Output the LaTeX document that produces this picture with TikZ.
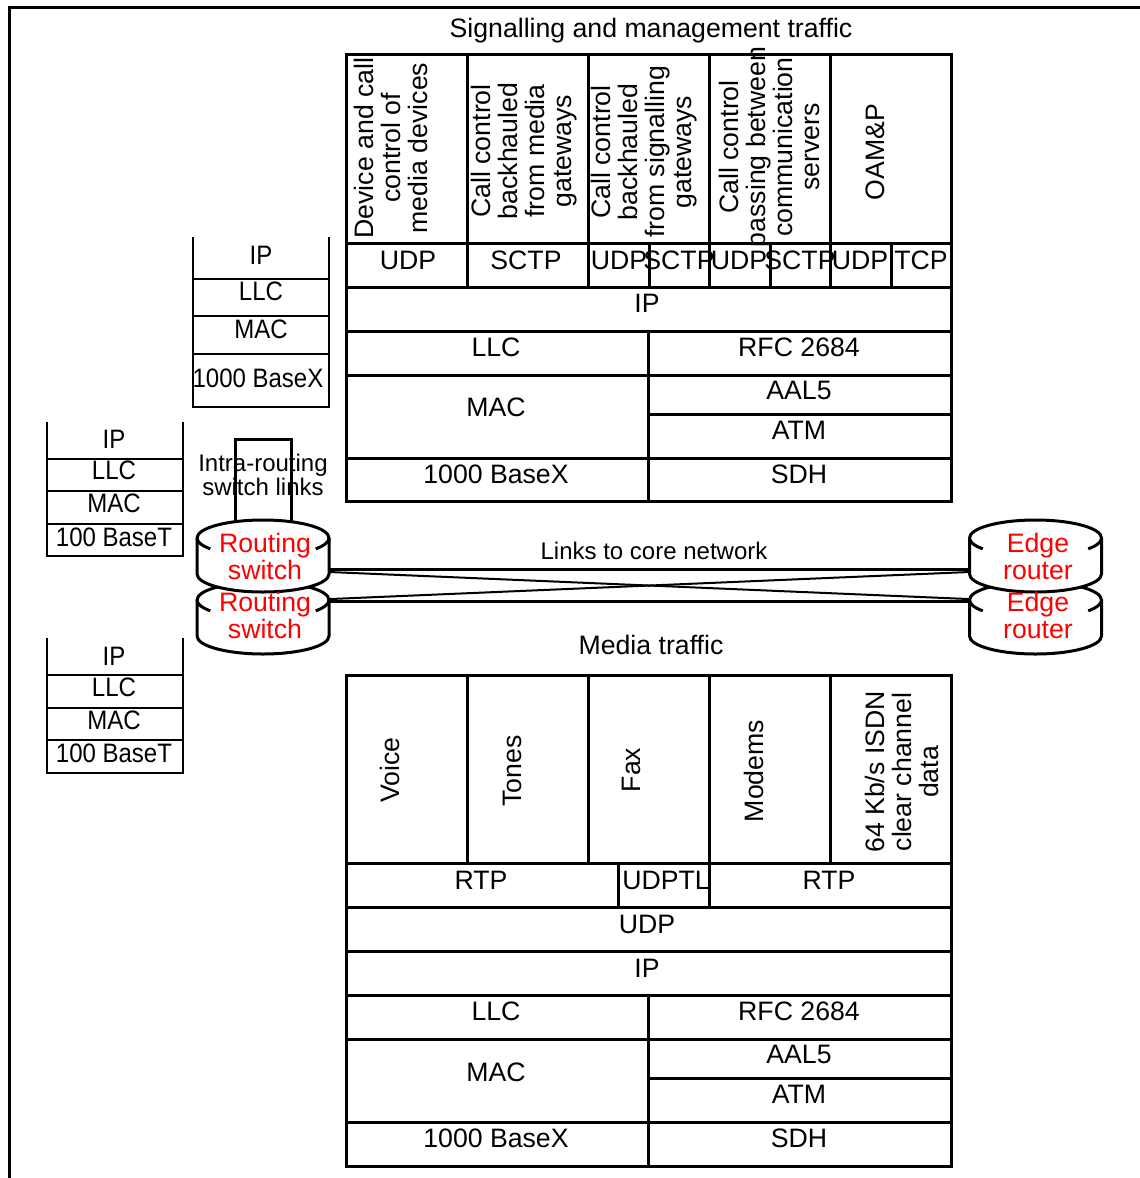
\documentclass[tikz,border=0pt]{standalone}
\usepackage{fontspec}
\setmainfont{Liberation Sans}
\usepackage{xcolor}
\usetikzlibrary{positioning}
\tikzset{
  rule/.style={line width=2.25pt,line cap=rect},
  stackrule/.style={line width=1.5pt,line cap=rect},
  linkrule/.style={line width=2.25pt},
  diagrule/.style={line width=1.5pt},
  lab/.style={font=\fontsize{20}{20.25}\selectfont,inner sep=0pt,align=center},
  stacklab/.style={lab,xscale=0.9,transform shape},
  smalllab/.style={font=\fontsize{18}{18.5}\selectfont,inner sep=0pt,align=center},
  redlab/.style={lab,text=red},
  uplab/.style={lab,rotate=90},
  drum/.style={minimum width=99pt,minimum height=1pt,inner sep=0pt},
}
\newcommand{\drumshape}[1]{
  \filldraw[rule,line cap=butt,fill=white] (#1) ++(-66,-18) arc[start angle=180,end angle=360,x radius=66,y radius=18]
    -- ++(0,36) arc[start angle=0,end angle=180,x radius=66,y radius=18] -- cycle;
  \draw[rule,line cap=butt] (#1) ++(-66,-18) arc[start angle=180,end angle=143,x radius=66,y radius=18];
  \draw[rule,line cap=butt] (#1) ++(66,-18) arc[start angle=0,end angle=37,x radius=66,y radius=18];
}
\begin{document}
\begin{tikzpicture}[x=0.75pt,y=-0.75pt]
\useasboundingbox (0,0) rectangle (1139,1178);
% frame
\draw[rule] (1139,7) -- (9,7) -- (9,1178);
\node[lab] (sigtitle) at (651,31) {Signalling and management traffic};
% signalling table
\draw[rule] (346,54.5) rectangle (951,501);
\foreach \y in {243,287,331,375,458} \draw[rule] (346,\y) -- (951,\y);
\draw[rule] (648.5,414) -- (951,414);
\foreach \x in {467,588,709,830} \draw[rule] (\x,54.5) -- (\x,287);
\foreach \x in {649,770,891} \draw[rule] (\x,243) -- (\x,287);
\draw[rule] (648.5,331) -- (648.5,501);
\node[uplab] (sdev) at (391,148) {Device and call\\control of\\media devices};
\node[uplab] (sgw) at (524,151) {Call control\\backhauled\\from media\\gateways};
\node[uplab] (ssg) at (644,152) {Call control\\backhauled\\from signalling\\gateways};
\node[uplab] (spass) at (769,147) {Call control\\passing between\\communication\\servers};
\node[uplab] (soam) at (875,152) {OAM\&P};
\foreach \x/\t in {408/UDP,526/SCTP,619/UDP,679/SCTP,739/UDP,800/SCTP,860/UDP,921/TCP}
  \node[lab] at (\x,260) {\t};
\node[lab] (sip) at (647,303) {IP};
\node[lab] (sllc) at (496,347) {LLC};
\node[lab] (srfc) at (799,347) {RFC 2684};
\node[lab] (smac) at (496,407) {MAC};
\node[lab] (saal) at (799,390) {AAL5};
\node[lab] (satm) at (799,430) {ATM};
\node[lab] (sbase) at (496,474) {1000 BaseX};
\node[lab] (ssdh) at (799,474) {SDH};
% upper left stack
\draw[stackrule] (193,238) -- (193,407) -- (329,407) -- (329,238);
\foreach \y in {279,316,354} \draw[stackrule] (193,\y) -- (329,\y);
\node[stacklab] (uip) at (261,255) {IP};
\node[stacklab] (ullc) at (261,291) {LLC};
\node[stacklab] (umac) at (261,329) {MAC};
\node[stacklab] (ubase) at (258,378) {1000 BaseX};
% middle left stack
\draw[stackrule] (47,423) -- (47,556) -- (183,556) -- (183,423);
\foreach \y in {459,491,524} \draw[stackrule] (47,\y) -- (183,\y);
\node[stacklab] (mip) at (114,439) {IP};
\node[stacklab] (mllc) at (114,470) {LLC};
\node[stacklab] (mmac) at (114,503) {MAC};
\node[stacklab] (mbase) at (114,537) {100 BaseT};
% lower left stack
\draw[stackrule] (47,639) -- (47,773) -- (183,773) -- (183,639);
\foreach \y in {675,708,740} \draw[stackrule] (47,\y) -- (183,\y);
\node[stacklab] (lip) at (114,656) {IP};
\node[stacklab] (lllc) at (114,687) {LLC};
\node[stacklab] (lmac) at (114,720) {MAC};
\node[stacklab] (lbase) at (114,753) {100 BaseT};
% intra-routing links
\draw[rule] (235,525) -- (235,439) -- (291,439) -- (291,525);
\node[smalllab] (intra) at (263,475) {Intra-routing\\switch links};
% drums
\drumshape{263,618}
\drumshape{1035.5,618}
\drumshape{263,556}
\drumshape{1035.5,556}
\node[drum] (rs2) at (263,618) {};
\node[drum] (er2) at (1035.5,618) {};
\node[drum] (rs1) at (263,556) {};
\node[drum] (er1) at (1035.5,556) {};
\node[redlab] at (265,556) {Routing\\switch};
\node[redlab] at (265,615) {Routing\\switch};
\node[redlab] at (1038,556) {Edge\\router};
\node[redlab] at (1038,615) {Edge\\router};
% core links
\draw[linkrule] ([yshift=-10.1pt]rs1.east) -- ([yshift=-10.1pt]er1.west);
\draw[diagrule] ([yshift=-12pt]rs1.east) -- ([yshift=14.2pt]er2.west);
\draw[diagrule] ([yshift=14.2pt]rs2.east) -- ([yshift=-12pt]er1.west);
\draw[linkrule] ([yshift=12.4pt]rs2.east) -- ([yshift=12.4pt]er2.west);
\node[smalllab] (links) at (654,551) {Links to core network};
\node[lab] (medtitle) at (651,645) {Media traffic};
% media table
\draw[rule] (346,675) rectangle (951,1166);
\foreach \y in {863,907,951,995,1039,1122} \draw[rule] (346,\y) -- (951,\y);
\draw[rule] (648.5,1078) -- (951,1078);
\foreach \x in {467,588,709,830} \draw[rule] (\x,675) -- (\x,863);
\foreach \x in {618,709} \draw[rule] (\x,863) -- (\x,907);
\draw[rule] (648.5,995) -- (648.5,1166);
\node[uplab] (mvoice) at (390,770) {Voice};
\node[uplab] (mtones) at (512,771) {Tones};
\node[uplab] (mfax) at (631,770) {Fax};
\node[uplab] (mmodem) at (754,771) {Modems};
\node[uplab] (misdn) at (902,772) {64 Kb/s ISDN\\clear channel\\data};
\node[lab] (mrtpa) at (481,880) {RTP};
\node[lab] (mudptl) at (666,880) {UDPTL};
\node[lab] (mrtpb) at (829,880) {RTP};
\node[lab] (mudp) at (647,924) {UDP};
\node[lab] (mipb) at (647,968) {IP};
\node[lab] (mllcb) at (496,1011) {LLC};
\node[lab] (mrfc) at (799,1011) {RFC 2684};
\node[lab] (mmacb) at (496,1072) {MAC};
\node[lab] (maal) at (799,1054) {AAL5};
\node[lab] (matm) at (799,1094) {ATM};
\node[lab] (mbaseb) at (496,1138) {1000 BaseX};
\node[lab] (msdh) at (799,1138) {SDH};
\end{tikzpicture}
\end{document}
